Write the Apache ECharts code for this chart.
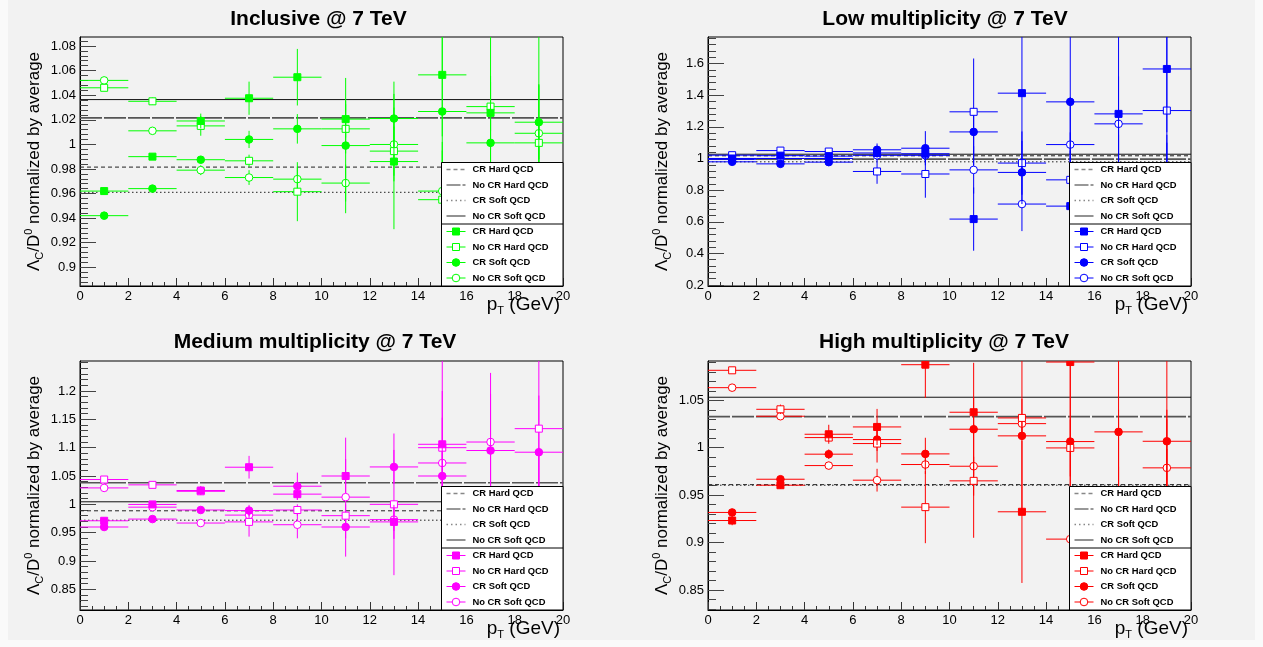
<!DOCTYPE html>
<html><head><meta charset="utf-8">
<script src="https://cdn.jsdelivr.net/npm/echarts@6/dist/echarts.min.js"></script>
<style>html,body{margin:0;padding:0;background:#fafafa;}#c{width:1263px;height:647px;}</style>
</head><body><div id="c"></div>
<script>
// ---------------- DATA ----------------
const ptBins = [1, 3, 5, 7, 9, 11, 13, 15, 17, 19];
const seriesNames = ['CR Hard QCD', 'No CR Hard QCD', 'CR Soft QCD', 'No CR Soft QCD'];
const panelTitles = ['Inclusive @ 7 TeV', 'Low multiplicity @ 7 TeV', 'Medium multiplicity @ 7 TeV', 'High multiplicity @ 7 TeV'];

// Inclusive
const inclCRHard      = [0.962, 0.990, 1.019, 1.0375, 1.0546, 1.0205, 0.986, 1.0565, 1.0256, 0.955];
const inclCRHardErr   = [0.002, 0.002, 0.006, 0.0135, 0.023, 0.015, 0.055, 0.05, 0.03, 0.06];
const inclNoCRHard    = [1.046, 1.035, 1.015, 0.9866, 0.9615, 1.0126, 0.9945, 0.955, 1.0307, 1.0012];
const inclNoCRHardErr = [0.002, 0.003, 0.008, 0.005, 0.024, 0.02, 0.02, 0.04, 0.02, 0.1];
const inclCRSoft      = [0.942, 0.964, 0.9875, 1.004, 1.0126, 0.999, 1.021, 1.0267, 1.0012, 1.018];
const inclCRSoftErr   = [0.002, 0.002, 0.003, 0.007, 0.012, 0.055, 0.03, 0.07, 0.09, 0.03];
const inclNoCRSoft    = [1.052, 1.011, 0.979, 0.973, 0.9717, 0.9685, 0.9999, 0.962, 0.97, 1.009];
const inclNoCRSoftErr = [0.002, 0.002, 0.004, 0.006, 0.01, 0.015, 0.03, 0.04, 0.05, 0.04];
const inclAvg = [0.9815, 1.0215, 0.961, 1.0364];

// Low multiplicity
const lowCRHard      = [1.0, 1.018, 1.015, 1.035, 1.03, 0.617, 1.413, 0.699, 1.282, 1.566];
const lowCRHardErr   = [0.01, 0.01, 0.012, 0.03, 0.04, 0.2, 0.5, 0.35, 0.5, 0.4];
const lowNoCRHard    = [1.021, 1.05, 1.044, 0.918, 0.902, 1.295, 0.971, 0.865, 0.85, 1.303];
const lowNoCRHardErr = [0.01, 0.01, 0.012, 0.078, 0.15, 0.337, 0.2, 0.3, 0.3, 0.6];
const lowCRSoft      = [0.979, 0.966, 0.977, 1.055, 1.065, 1.168, 0.912, 1.358, 0.9, 0.85];
const lowCRSoftErr   = [0.01, 0.01, 0.015, 0.04, 0.108, 0.15, 0.2, 0.5, 0.3, 0.3];
const lowNoCRSoft    = [0.995, 1.0, 1.0, 1.02, 1.02, 0.928, 0.712, 1.088, 1.219, 0.8];
const lowNoCRSoftErr = [0.01, 0.01, 0.012, 0.03, 0.04, 0.15, 0.171, 0.3, 0.3, 0.3];
const lowAvg = [1.017, 0.996, 0.979, 1.027];

// Medium multiplicity
const medCRHard      = [0.971, 0.9998, 1.0244, 1.0655, 1.018, 1.050, 0.969, 1.106, 0.97, 0.96];
const medCRHardErr   = [0.004, 0.004, 0.008, 0.02, 0.01, 0.03, 0.03, 0.15, 0.05, 0.05];
const medNoCRHard    = [1.0438, 1.0344, 1.023, 0.969, 0.990, 0.980, 1.0, 1.10, 1.0, 1.1336];
const medNoCRHardErr = [0.003, 0.003, 0.006, 0.026, 0.01, 0.02, 0.125, 0.1, 0.1, 0.14];
const medCRSoft      = [0.960, 0.974, 0.990, 0.989, 1.032, 0.960, 1.066, 1.050, 1.095, 1.092];
const medCRSoftErr   = [0.003, 0.003, 0.003, 0.01, 0.024, 0.02, 0.03, 0.05, 0.1, 0.1];
const medNoCRSoft    = [1.029, 0.995, 0.967, 0.981, 0.964, 1.0127, 0.973, 1.073, 1.110, 1.0];
const medNoCRSoftErr = [0.003, 0.003, 0.003, 0.008, 0.024, 0.105, 0.02, 0.08, 0.122, 0.1];
const medAvg = [0.9886, 1.038, 0.972, 1.0045];

// High multiplicity
const highCRHard      = [0.9233, 0.9605, 1.0142, 1.0219, 1.0875, 1.0374, 0.9325, 1.0903, 0.93, 0.94];
const highCRHardErr   = [0.005, 0.004, 0.01, 0.019, 0.035, 0.015, 0.075, 0.15, 0.1, 0.1];
const highNoCRHard    = [1.0816, 1.0405, 1.0107, 1.0044, 0.9374, 0.9651, 1.0314, 0.9998, 0.94, 0.93];
const highNoCRHardErr = [0.003, 0.005, 0.004, 0.02, 0.038, 0.06, 0.02, 0.03, 0.1, 0.1];
const highCRSoft      = [0.9318, 0.9668, 0.9932, 1.0086, 0.9935, 1.0195, 1.0125, 1.0065, 1.0167, 1.0068];
const highCRSoftErr   = [0.002, 0.003, 0.005, 0.012, 0.017, 0.07, 0.08, 0.1, 0.1, 0.1];
const highNoCRSoft    = [1.0633, 1.0332, 0.9812, 0.9658, 0.9823, 0.9805, 1.0254, 0.9037, 0.93, 0.9788];
const highNoCRSoftErr = [0.002, 0.003, 0.004, 0.012, 0.01, 0.01, 0.01, 0.05, 0.05, 0.02];
const highAvg = [0.9611, 1.0328, 0.9605, 1.0532];

// tick labels
const yTicksIncl = [0.9, 0.92, 0.94, 0.96, 0.98, 1, 1.02, 1.04, 1.06, 1.08];
const yTicksLow  = [0.2, 0.4, 0.6, 0.8, 1, 1.2, 1.4, 1.6];
const yTicksMed  = [0.85, 0.9, 0.95, 1, 1.05, 1.1, 1.15, 1.2];
const yTicksHigh = [0.85, 0.9, 0.95, 1, 1.05];

// ---------------- LAYOUT / STYLE ----------------
const FONT = '"Liberation Sans", Arial, Helvetica, sans-serif';
const panels = [
  { title: panelTitles[0], color: '#00ff00', left: 80,  top: 37,  ymin: 0.8848, ymax: 1.0873, ticks: yTicksIncl, minorStep: 0.004,
    data: [[inclCRHard, inclCRHardErr], [inclNoCRHard, inclNoCRHardErr], [inclCRSoft, inclCRSoftErr], [inclNoCRSoft, inclNoCRSoftErr]], avg: inclAvg, tx: 318.5, ty: 9 },
  { title: panelTitles[1], color: '#0000ff', left: 708, top: 37,  ymin: 0.194,  ymax: 1.768,  ticks: yTicksLow,  minorStep: 0.04,
    data: [[lowCRHard, lowCRHardErr], [lowNoCRHard, lowNoCRHardErr], [lowCRSoft, lowCRSoftErr], [lowNoCRSoft, lowNoCRSoftErr]], avg: lowAvg, tx: 945, ty: 9 },
  { title: panelTitles[2], color: '#ff00ff', left: 80,  top: 361, ymin: 0.8135, ymax: 1.253,  ticks: yTicksMed,  minorStep: 0.01,
    data: [[medCRHard, medCRHardErr], [medNoCRHard, medNoCRHardErr], [medCRSoft, medCRSoftErr], [medNoCRSoft, medNoCRSoftErr]], avg: medAvg, tx: 315, ty: 332 },
  { title: panelTitles[3], color: '#ff0000', left: 708, top: 361, ymin: 0.829,  ymax: 1.0914, ticks: yTicksHigh, minorStep: 0.01,
    data: [[highCRHard, highCRHardErr], [highNoCRHard, highNoCRHardErr], [highCRSoft, highCRSoftErr], [highNoCRSoft, highNoCRSoftErr]], avg: highAvg, tx: 944, ty: 332 }
];
const GW = 483, GH = 249;
const markerKinds = [ {shape:'rect', filled:true}, {shape:'rect', filled:false}, {shape:'circle', filled:true}, {shape:'circle', filled:false} ];
const avgStyles = [
  { color: '#222', width: 1, type: [4, 3] },
  { color: '#555', width: 1.6, type: [22, 2] },
  { color: '#222', width: 1, type: [1.5, 2.5] },
  { color: '#111', width: 1, type: 'solid' }
];
const legendLineStyles = [
  { stroke: '#888', lineWidth: 1.6, lineDash: [4, 3] },
  { stroke: '#777', lineWidth: 1.6, lineDash: [14, 2] },
  { stroke: '#888', lineWidth: 1.6, lineDash: [1.5, 3] },
  { stroke: '#777', lineWidth: 1.6, lineDash: null }
];
const drawOrder = [3, 2, 1, 0];

function minorTicks(p) {
  const out = [];
  const start = Math.ceil(p.ymin / p.minorStep - 1e-9);
  for (let k = start; k * p.minorStep <= p.ymax + 1e-9; k++) out.push(+(k * p.minorStep).toFixed(5));
  return out;
}
function fmt(v) { return String(+(+v).toFixed(4)); }

const grids = [], xAxes = [], yAxes = [], series = [], titles = [], graphics = [];

graphics.push({ type: 'rect', shape: { x: 8, y: 0, width: 1247, height: 640 }, style: { fill: '#f2f2f2' }, z: -10, silent: true });

panels.forEach((p, gi) => {
  grids.push({ left: p.left, top: p.top, width: GW, height: GH, show: true, borderColor: '#000', borderWidth: 1, backgroundColor: 'transparent', containLabel: false, outerBoundsMode: 'none' });
  xAxes.push({
    type: 'value', gridIndex: gi, min: 0, max: 20, interval: 2,
    axisLine: { show: true, onZero: false, lineStyle: { color: '#000', width: 1 } },
    axisTick: { show: true, inside: true, length: 8, lineStyle: { color: '#333' } },
    minorTick: { show: true, splitNumber: 4, length: 4, lineStyle: { color: '#333' } },
    axisLabel: { color: '#000', fontSize: 13, fontFamily: FONT, margin: 4, showMinLabel: true, showMaxLabel: true, formatter: v => String(v) },
    splitLine: { show: false },
    name: '{a|p}{s|T}{a| (GeV)}', nameLocation: 'end', nameGap: -3, nameMoveOverlap: false,
    nameTextStyle: { align: 'right', verticalAlign: 'top', padding: [8, 0, 0, 0],
      rich: { a: { fontSize: 19, fontFamily: FONT, color: '#000', lineHeight: 22 },
              s: { fontSize: 11, fontFamily: FONT, color: '#000', lineHeight: 22, verticalAlign: 'bottom', padding: [10, 0, 0, 0] } } }
  });
  yAxes.push({
    type: 'value', gridIndex: gi, min: p.ymin, max: p.ymax, position: 'left',
    axisLine: { show: true, onZero: false, lineStyle: { color: '#000', width: 1 } },
    axisTick: { show: true, inside: true, length: 16, customValues: p.ticks, lineStyle: { color: '#444' } },
    axisLabel: { show: true, customValues: p.ticks, formatter: fmt, color: '#000', fontSize: 13, fontFamily: FONT, margin: 4 },
    splitLine: { show: false },
    name: '{a|Λ}{s|C}{a|/D}{u|0}{a| normalized by average}', nameLocation: 'middle', nameGap: 34, nameRotate: 90, nameMoveOverlap: false,
    nameTextStyle: { rich: {
      a: { fontSize: 17, fontFamily: FONT, color: '#000', lineHeight: 24 },
      s: { fontSize: 11, fontFamily: FONT, color: '#000', lineHeight: 24, padding: [12, 0, 0, 0] },
      u: { fontSize: 11, fontFamily: FONT, color: '#000', lineHeight: 24, padding: [0, 0, 10, 0] } } }
  });
  yAxes.push({
    type: 'value', gridIndex: gi, min: p.ymin, max: p.ymax, position: 'left', offset: 0,
    axisLine: { show: false },
    axisTick: { show: true, inside: true, length: 8, customValues: minorTicks(p), lineStyle: { color: '#444' } },
    axisLabel: { show: false },
    splitLine: { show: false }
  });
  titles.push({ text: p.title, left: p.tx, top: p.ty, textAlign: 'center', padding: 0,
    textStyle: { fontSize: 21, fontWeight: 'bold', fontFamily: FONT, color: '#000' } });

  // average lines
  p.avg.forEach((v, k) => {
    series.push({ type: 'line', name: seriesNames[k] + ' avg', xAxisIndex: gi, yAxisIndex: gi * 2, silent: true,
      data: [[0, v], [20, v]], symbol: 'none', animation: false, z: 1,
      lineStyle: { color: avgStyles[k].color, width: avgStyles[k].width, type: avgStyles[k].type } });
  });

  // data points with error bars
  drawOrder.forEach(k => {
    const vals = p.data[k][0], errs = p.data[k][1];
    const mk = markerKinds[k];
    const color = p.color;
    series.push({
      type: 'custom', name: seriesNames[k], xAxisIndex: gi, yAxisIndex: gi * 2, z: 2, animation: false, clip: true,
      data: ptBins.map((x, i) => [x, vals[i], errs[i]]),
      renderItem: (params, api) => {
        const x = api.value(0), y = api.value(1), e = api.value(2);
        const lo = Math.max(y - e, p.ymin), hi = Math.min(y + e, p.ymax);
        const c = api.coord([x, y]);
        const l = api.coord([x - 1, y]), r = api.coord([x + 1, y]);
        const b = api.coord([x, lo]), t = api.coord([x, hi]);
        const children = [
          { type: 'line', shape: { x1: l[0], y1: c[1], x2: r[0], y2: c[1] }, style: { stroke: color, lineWidth: 1 } },
          { type: 'line', shape: { x1: c[0], y1: b[1], x2: c[0], y2: t[1] }, style: { stroke: color, lineWidth: 1 } }
        ];
        const st = { fill: mk.filled ? color : '#fff', stroke: color, lineWidth: 1 };
        if (mk.shape === 'rect') children.push({ type: 'rect', shape: { x: c[0] - 3.5, y: c[1] - 3.5, width: 7, height: 7 }, style: st });
        else children.push({ type: 'circle', shape: { cx: c[0], cy: c[1], r: 3.8 }, style: st });
        return { type: 'group', children };
      }
    });
  });

  // legend box (ROOT TLegend style), on its own layer above the data
  const R = p.left + GW, B = p.top + GH;
  const lx = R - 121.5, ly = B - 123.5;
  const ZL = 100, LV = 1;
  const kids = [
    { type: 'rect', zlevel: LV, z: ZL, shape: { x: lx, y: ly, width: 121.5, height: 123.5 }, style: { fill: '#fff', stroke: '#000', lineWidth: 1 } },
    { type: 'line', zlevel: LV, z: ZL + 1, shape: { x1: lx, y1: B - 62, x2: R, y2: B - 62 }, style: { stroke: '#000', lineWidth: 1 } }
  ];
  for (let i = 0; i < 8; i++) {
    const yy = ly + 7 + i * 15.5;
    const k = i % 4;
    if (i < 4) {
      const ls = legendLineStyles[k];
      kids.push({ type: 'line', zlevel: LV, z: ZL + 1, shape: { x1: lx + 5, y1: yy, x2: lx + 24, y2: yy }, style: { stroke: ls.stroke, lineWidth: ls.lineWidth, lineDash: ls.lineDash } });
    } else {
      const mk = markerKinds[k];
      kids.push({ type: 'line', zlevel: LV, z: ZL + 1, shape: { x1: lx + 5, y1: yy, x2: lx + 24, y2: yy }, style: { stroke: p.color, lineWidth: 1 } });
      const st = { fill: mk.filled ? p.color : '#fff', stroke: p.color, lineWidth: 1 };
      if (mk.shape === 'rect') kids.push({ type: 'rect', zlevel: LV, z: ZL + 2, shape: { x: lx + 14.5 - 3.5, y: yy - 3.5, width: 7, height: 7 }, style: st });
      else kids.push({ type: 'circle', zlevel: LV, z: ZL + 2, shape: { cx: lx + 14.5, cy: yy, r: 3.8 }, style: st });
    }
    kids.push({ type: 'text', zlevel: LV, z: ZL + 2, x: lx + 31, y: yy, style: { text: seriesNames[k], fill: '#000', font: 'bold 9.4px ' + FONT, verticalAlign: 'middle' } });
  }
  kids.forEach(el => graphics.push(el));
});

const chart = echarts.init(document.getElementById('c'), null, { renderer: 'canvas' });
chart.setOption({
  animation: false,
  backgroundColor: 'transparent',
  title: titles,
  grid: grids,
  xAxis: xAxes,
  yAxis: yAxes,
  series: series,
  graphic: graphics
});
</script>
</body></html>
